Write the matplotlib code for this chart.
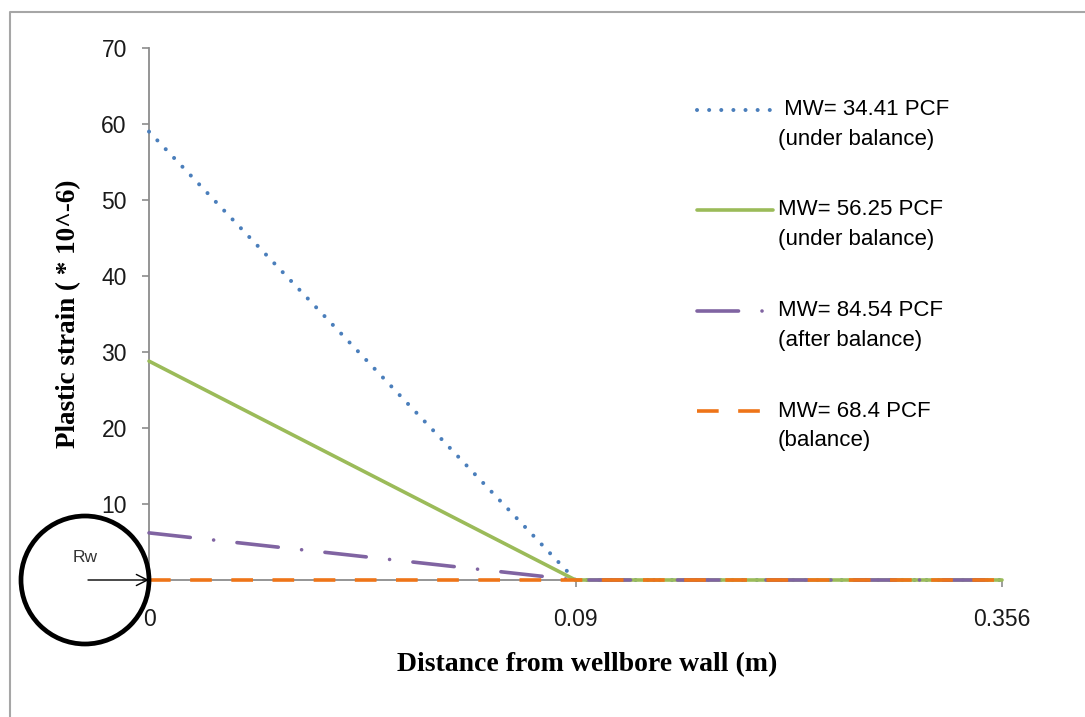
import numpy as np
import matplotlib.pyplot as plt
from matplotlib.patches import Circle
from matplotlib.lines import Line2D

# data
distance_labels = ['0', '0.09', '0.356']
strain_34_41 = [59.0, 0.0, 0.0]   # MW= 34.41 PCF (under balance)
strain_56_25 = [28.8, 0.0, 0.0]   # MW= 56.25 PCF (under balance)
strain_84_54 = [6.2, 0.0, 0.0]    # MW= 84.54 PCF (after balance)
strain_68_4 = [0.0, 0.0, 0.0]     # MW= 68.4 PCF (balance)

labels = ['\n MW= 34.41 PCF\n(under balance)',
          '\nMW= 56.25 PCF\n(under balance)',
          '\nMW= 84.54 PCF\n(after balance)',
          '\nMW= 68.4 PCF\n(balance)']

tick_font = 'Liberation Sans'
serif_font = 'Liberation Serif'
axis_gray = '#8c8c8c'

fig = plt.figure(figsize=(10.85, 7.17), dpi=100)
ax = fig.add_axes([149 / 1085, 1 - 580 / 717, 853 / 1085, 532 / 717])

x = np.arange(len(distance_labels))
lw = 2.6
# lines sit above the axis spines, as in the original
ax.plot(x, strain_34_41, color='#4a7ebb', lw=2.9, linestyle=(0, (0.01, 3.0)),
        dash_capstyle='round', label=labels[0], zorder=3, clip_on=False)
ax.plot(x, strain_56_25, color='#9bbb59', lw=lw, linestyle='-',
        solid_capstyle='round', label=labels[1], zorder=3, clip_on=False)
ax.plot(x, strain_84_54, color='#8064a2', lw=lw,
        linestyle=(0, (11.5, 6.5, 0.01, 6.5)), dash_capstyle='round',
        label=labels[2], zorder=3, clip_on=False)
ax.plot(x, strain_68_4, color='#ee7418', lw=lw, linestyle=(0, (6.0, 5.4)),
        dash_capstyle='butt', label=labels[3], zorder=3, clip_on=False)

ax.set_xlim(0, 2)
ax.set_ylim(0, 70)
ax.set_xticks(x)
ax.set_xticklabels(distance_labels)
ax.set_yticks(np.arange(0, 71, 10))
ax.set_yticklabels([''] + [str(v) for v in range(10, 71, 10)])

for side in ['top', 'right']:
    ax.spines[side].set_visible(False)
for side in ['left', 'bottom']:
    ax.spines[side].set_color(axis_gray)
    ax.spines[side].set_linewidth(1.3)
ax.tick_params(axis='both', direction='out', length=5, width=1.2, color=axis_gray,
               labelsize=16.5, labelcolor='#1a1a1a')
ax.tick_params(axis='y', pad=11)
ax.tick_params(axis='x', pad=15)
for t in ax.get_xticklabels() + ax.get_yticklabels():
    t.set_fontfamily(tick_font)

ax.set_ylabel('Plastic strain ( * 10^-6)', fontsize=19.5, fontweight='bold',
              family=serif_font)
ax.yaxis.set_label_coords(-0.080, 0.5)
ax.set_xlabel('Distance from wellbore wall (m)', fontsize=20, fontweight='bold',
              family=serif_font)
ax.xaxis.set_label_coords(0.514, -0.135)

leg = ax.legend(loc='upper left', bbox_to_anchor=(697 / 1085, 1 - 69 / 717),
                bbox_transform=fig.transFigure, frameon=False,
                prop={'family': tick_font, 'size': 16},
                handlelength=3.4, handletextpad=0.25, labelspacing=0.9,
                borderaxespad=0, borderpad=0)
for t in leg.get_texts():
    t.set_linespacing(1.55)

# wellbore circle with radius arrow
fig.patches.append(Circle((85, 137), 64, transform=None, fill=False,
                          edgecolor='black', lw=3.4, zorder=5))
ax.annotate('', xy=(0, 0), xycoords='data', xytext=(88, 137),
            textcoords='figure pixels',
            arrowprops=dict(arrowstyle='->', color='black', lw=1.0,
                            mutation_scale=20, shrinkA=0, shrinkB=0),
            annotation_clip=False, zorder=6)
fig.text(85 / 1085, 1 - 558 / 717, 'Rw', fontsize=12.5, family=tick_font,
         ha='center', va='center', color='#333333')

# chart border (left and top edges visible)
fig.add_artist(Line2D([10 / 1085, 10 / 1085, 1.0], [0.0, 1 - 12 / 717, 1 - 12 / 717],
                      transform=fig.transFigure, color='#a6a6a6', lw=1.5))

fig.savefig('out.png', dpi=100)
